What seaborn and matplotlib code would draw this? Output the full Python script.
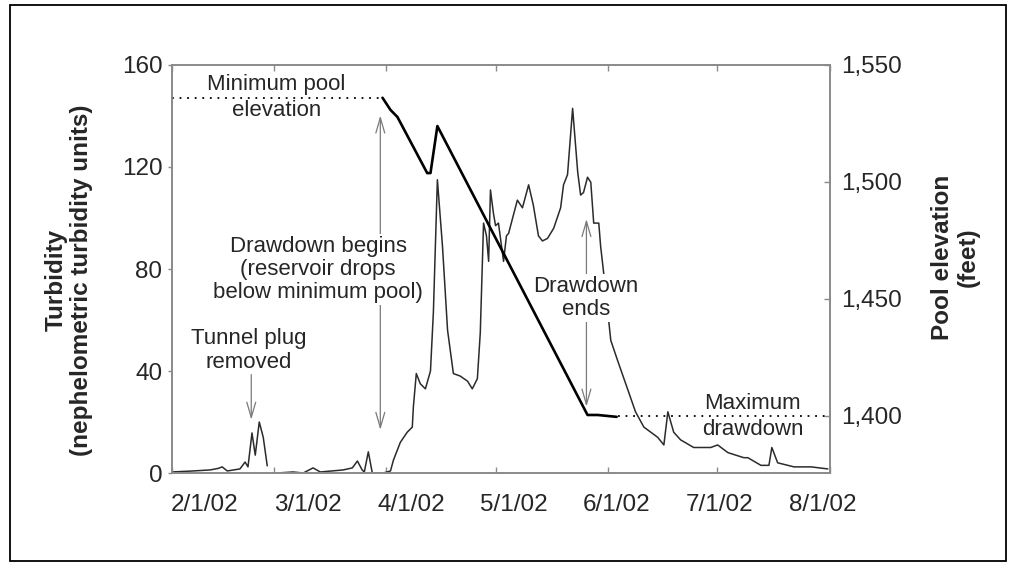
import numpy as np
import pandas as pd
import matplotlib
matplotlib.use("Agg")
import matplotlib.pyplot as plt
import matplotlib.dates as mdates
from matplotlib.patches import Rectangle
from matplotlib.transforms import ScaledTranslation
from matplotlib.ticker import FuncFormatter
import seaborn as sns

# ---------------- data ----------------
start_date = "2002-02-01"
end_date = "2002-08-01"

# turbidity (NTU); days after 2/1/02; two segments (gap in record ~2/27-3/1)
turb_day_a = [0, 5.8, 10.5, 12.7, 13.8, 15.2, 18.7, 20.1, 20.9, 22.0, 22.9, 24.0, 25.1, 26.2]
turb_ntu_a = [0.4, 0.8, 1.2, 1.8, 2.4, 0.8, 1.6, 4.3, 2.4, 15.7, 7, 20, 14, 2.8]

turb_day_b = [28.9, 33.3, 36.1, 38.8, 40.8, 47.1, 49.6, 51.0, 52.3, 52.9,
              54.0, 55.1, 58.1, 60.1, 60.9, 62.8, 64.7, 66.1, 66.4, 67.2,
              68.3, 69.7, 71.1, 71.9, 73.0, 74.4, 75.8, 77.4, 79.3, 81.3,
              82.6, 84.0, 84.8, 85.7, 86.5, 87.1, 87.6, 88.4, 89.0, 89.8,
              91.2, 92.0, 92.6, 93.7, 95.0, 96.4, 98.1, 99.4, 100.8, 101.9,
              103.3, 105.0, 106.9, 107.7, 108.8, 110.2, 111.6, 112.4, 113.2, 114.3,
              115.2, 116.0, 117.4, 117.9, 118.7, 120.7, 122.6, 125.3, 127.5, 129.8,
              131.7, 133.6, 135.3, 136.4, 138.0, 139.9, 143.5, 148.2, 150.1, 152.9,
              157.3, 158.4, 162.0, 164.2, 165.0, 166.6, 171.1, 175.8, 180.4]
turb_ntu_b = [0, 0.4, 0, 2, 0.4, 1.2, 2, 4.7, 1.2, 0.4,
              8.3, 0, 0, 0.8, 5, 12, 16, 18, 26, 39,
              35, 33, 40, 63, 115, 89, 56, 39, 38, 36,
              33, 37, 55, 98, 93, 83, 111, 102, 97, 98,
              83, 93, 94, 100, 107, 104, 113, 105, 93, 91,
              92, 96, 104, 113, 117, 143, 118, 109, 110, 116,
              114, 98, 98, 89, 79, 52, 44, 33, 24, 18,
              16, 14, 11, 24, 16, 13, 10, 10, 11, 8,
              6, 6, 3, 3, 10, 4, 2.4, 2.4, 1.6]

# pool elevation (feet); days after 2/1/02
elev_day = [57.9, 60.1, 62.0, 70.2, 71.1, 73.0, 114.3, 117.1, 122.3]
elev_ft = [1536, 1530.8, 1527.8, 1503.8, 1503.8, 1523.9, 1400.4, 1400.4, 1399.6]

min_pool_ft = 1536
max_drawdown_ft = 1400

x_tick_dates = ["2002-02-01", "2002-03-01", "2002-04-01", "2002-05-01",
                "2002-06-01", "2002-07-01", "2002-08-01"]
x_tick_labels = ["2/1/02", "3/1/02", "4/1/02", "5/1/02", "6/1/02", "7/1/02", "8/1/02"]
left_ticks = [0, 40, 80, 120, 160]
right_ticks = [1400, 1450, 1500, 1550]

# ---------------- frames ----------------
t0 = pd.Timestamp(start_date)
turb_df = pd.DataFrame({
    "date": [t0 + pd.Timedelta(days=d) for d in turb_day_a + turb_day_b],
    "ntu": turb_ntu_a + turb_ntu_b,
    "seg": ["a"] * len(turb_day_a) + ["b"] * len(turb_day_b),
})
elev_df = pd.DataFrame({
    "date": [t0 + pd.Timedelta(days=d) for d in elev_day],
    "ft": elev_ft,
})

sns.set_style("ticks")
plt.rcParams["font.family"] = ["Liberation Sans", "DejaVu Sans"]

W, H = 1010, 562
fig = plt.figure(figsize=(W / 100, H / 100), dpi=100)
ax_l, ax_r, ax_t, ax_b = 172, 830, 65, 473
ax = fig.add_axes([ax_l / W, 1 - ax_b / H, (ax_r - ax_l) / W, (ax_b - ax_t) / H])

sns.lineplot(data=turb_df, x="date", y="ntu", units="seg", estimator=None,
             color="#2b2b2b", lw=1.1, ax=ax, legend=False)

ax2 = ax.twinx()
sns.lineplot(data=elev_df, x="date", y="ft", color="black", lw=1.9, ax=ax2,
             legend=False, zorder=8)

xmin, xmax = pd.Timestamp(start_date), pd.Timestamp(end_date)
# dotted reference lines
ax2.plot([xmin, elev_df["date"].iloc[0]], [min_pool_ft, min_pool_ft],
         color="black", lw=1.3, ls=(0, (1, 3.2)))
ax2.plot([elev_df["date"].iloc[-1] + pd.Timedelta(days=0.5), xmax],
         [max_drawdown_ft, max_drawdown_ft], color="black", lw=1.3, ls=(0, (1, 3.2)))

ax.set_xlim(xmin, xmax)
ax.set_ylim(0, 160)
ax2.set_ylim(1375.6, 1550)

# ticks
spine_c = "#8a8a8a"
for a in (ax, ax2):
    for s in a.spines.values():
        s.set_color(spine_c)
        s.set_linewidth(1.2)

ax.set_xticks(pd.to_datetime(x_tick_dates))
ax.set_xticklabels(x_tick_labels)
ax.tick_params(axis="x", direction="in", top=True, length=4, width=1,
               color=spine_c, labelsize=17.5, pad=15)
ax.set_yticks(left_ticks)
ax.tick_params(axis="y", direction="out", length=3, width=1, color=spine_c,
               labelsize=17.5, pad=4)
ax2.set_yticks(right_ticks)
ax2.yaxis.set_major_formatter(FuncFormatter(lambda v, p: f"{v:,.0f}"))
ax2.tick_params(axis="y", direction="in", length=4, width=1, color=spine_c,
                labelsize=17.5, pad=8)

# evenly spaced tick labels (as in the original, not aligned with ticks)
ax_w_in = (ax_r - ax_l) / 100
n = len(x_tick_labels)
span = (xmax - xmin).total_seconds()
first_frac, last_frac = 33 / (ax_r - ax_l), 651 / (ax_r - ax_l)
for i, (lab, d) in enumerate(zip(ax.get_xticklabels(), pd.to_datetime(x_tick_dates))):
    tick_frac = (d - xmin).total_seconds() / span
    want = first_frac + i * (last_frac - first_frac) / (n - 1)
    dx = (want - tick_frac) * ax_w_in
    lab.set_transform(lab.get_transform() + ScaledTranslation(dx, 0, fig.dpi_scale_trans))

ax.set_xlabel("")
ax.set_ylabel("Turbidity\n(nephelometric turbidity units)", fontsize=17.5,
              fontweight="bold", linespacing=1.15)
ax.yaxis.set_label_coords((69 - ax_l) / (ax_r - ax_l), (ax_b - 280) / (ax_b - ax_t))
ax.yaxis.label.set_verticalalignment("center")
ax2.set_ylabel("Pool elevation\n(feet)", fontsize=17.5, fontweight="bold",
               linespacing=1.15)
ax2.yaxis.set_label_coords((955 - ax_l) / (ax_r - ax_l), (ax_b - 257) / (ax_b - ax_t))
ax2.yaxis.label.set_verticalalignment("center")

# ---------------- annotations ----------------
def day(d):
    return mdates.date2num(t0 + pd.Timedelta(days=d))

arrow_c = "#7a7a7a"
def arrow(x, y0, y1, style):
    ax2.annotate("", xy=(day(x), y1), xytext=(day(x), y0), xycoords=ax.transData,
                 textcoords=ax.transData,
                 arrowprops=dict(arrowstyle=style + ",head_length=0.55,head_width=0.16",
                                 color=arrow_c, lw=0.9, shrinkA=0, shrinkB=0,
                                 mutation_scale=20), zorder=3)

arrow(21.8, 38.6, 20.9, "->")          # tunnel plug
arrow(57.3, 16.9, 140.2, "<->")        # drawdown begins
arrow(114.0, 26.0, 99.6, "<->")        # drawdown ends

fs = 16
box = dict(facecolor="white", edgecolor="none", pad=1.5)
ax2.text(day(28.7), 147.2, "Minimum pool\nelevation", transform=ax.transData,
         ha="center", va="center", fontsize=fs, linespacing=1.3, zorder=6)
ax2.text(day(21.2), 48.0, "Tunnel plug\nremoved", transform=ax.transData,
         ha="center", va="center", fontsize=fs, linespacing=1.15, zorder=6)
ax2.text(day(40.2), 79.9, "Drawdown begins\n(reservoir drops\nbelow minimum pool)",
         transform=ax.transData, ha="center", va="center", fontsize=fs,
         linespacing=1.12, bbox=box, zorder=6)
ax2.text(day(113.8), 68.5, "Drawdown\nends", transform=ax.transData,
         ha="center", va="center", fontsize=fs, linespacing=1.12, bbox=box, zorder=6)
ax2.text(day(159.8), 22.2, "Maximum\ndrawdown", transform=ax.transData,
         ha="center", va="center", fontsize=fs, linespacing=1.3, zorder=6)

# outer frame
fig.add_artist(Rectangle((10 / W, 1 / H), (1006 - 10) / W, (561 - 5) / H,
                         transform=fig.transFigure, fill=False, ec="black", lw=1.3))

fig.savefig("out.png", dpi=100)
